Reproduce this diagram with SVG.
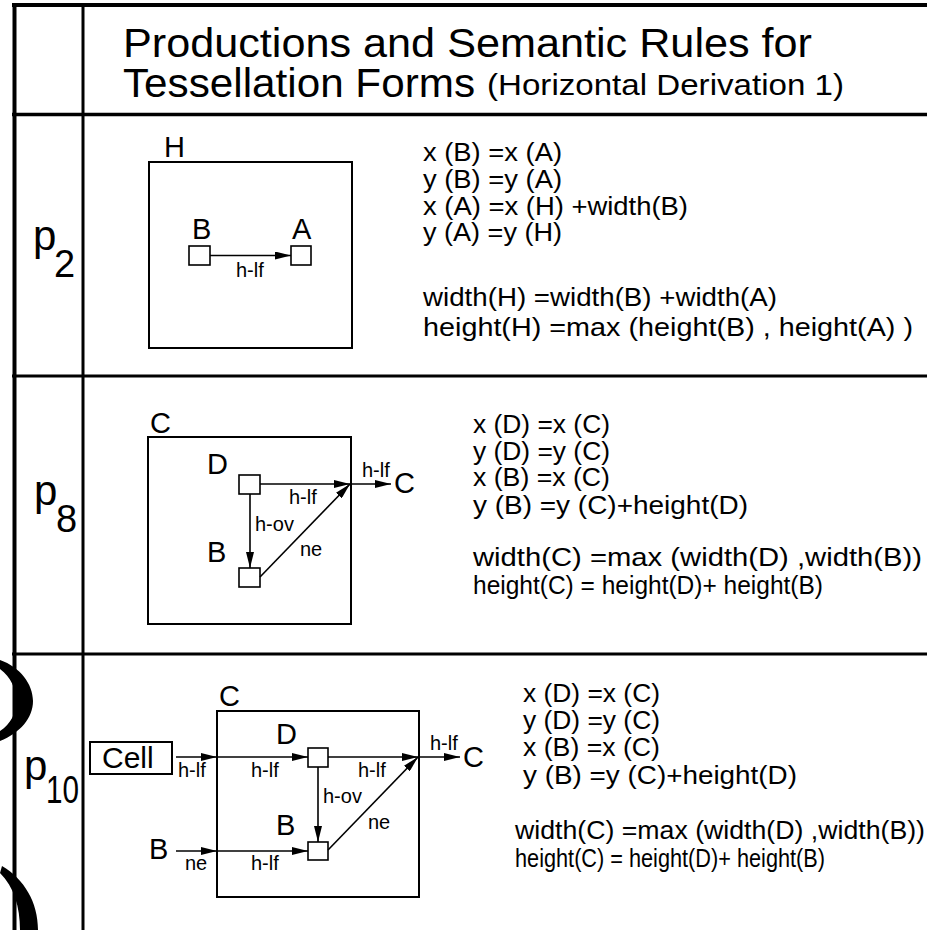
<svg xmlns="http://www.w3.org/2000/svg" width="927" height="930" viewBox="0 0 927 930">
  <style>
    .grid { stroke: #000; fill: none; }
    .frame { fill: none; stroke: #000; stroke-width: 2; }
    .box { fill: #fff; stroke: #000; stroke-width: 1.6; }
    .edge { stroke: #000; stroke-width: 1.6; fill: none; marker-end: url(#arrow); }
    .sans { font-family: "Liberation Sans", Arial, sans-serif; fill: #000; }
    .title { font-size: 40px; }
    .sub { font-size: 30px; }
    .plabel { font-size: 42px; }
    .pidx { font-size: 38px; }
    .node { font-size: 29px; }
    .elabel { font-size: 20px; }
    .eq { font-family: "Liberation Sans", Arial, sans-serif; font-size: 25px; fill: #000; }
  </style>
  <defs>
    <marker id="arrow" markerUnits="userSpaceOnUse" markerWidth="16" markerHeight="8" refX="16" refY="4" orient="auto">
      <path d="M0,0 L16,4 L0,8 Z" fill="#000"/>
    </marker>
  </defs>

  <rect width="927" height="930" fill="#fff"/>

  <!-- table rules -->
  <g id="table" class="grid">
    <line x1="12" y1="5" x2="927" y2="5" stroke-width="4"/>
    <line x1="14.5" y1="3" x2="14.5" y2="930" stroke-width="4"/>
    <line x1="83" y1="3" x2="83" y2="930" stroke-width="3"/>
    <line x1="12" y1="114.5" x2="927" y2="114.5" stroke-width="3.5"/>
    <line x1="12" y1="376" x2="927" y2="376" stroke-width="3"/>
    <line x1="12" y1="654" x2="927" y2="654" stroke-width="3"/>
  </g>

  <!-- bracket marks at the left edge -->
  <g id="brackets" fill="#000">
    <path d="M0,660 C20,667 33,684 33,701 C33,718 20,733 0,741 L0,731 C11,724 16,713 16,701 C16,689 11,677 0,669 Z"/>
    <path d="M2,866 C24,879 38,902 38,930 L20,930 C20,907 14,887 0,873 Z"/>
  </g>

  <!-- heading -->
  <g id="header" class="sans">
    <text class="title" x="123" y="57" textLength="689" lengthAdjust="spacingAndGlyphs">Productions and Semantic Rules for</text>
    <text class="title" x="123" y="97" textLength="352" lengthAdjust="spacingAndGlyphs">Tessellation Forms</text>
    <text class="sub" x="487" y="95" textLength="357" lengthAdjust="spacingAndGlyphs">(Horizontal Derivation 1)</text>
  </g>

  <!-- production labels -->
  <g id="label-p2" class="sans">
    <text class="plabel" x="33" y="250">p</text>
    <text class="pidx" x="54" y="277">2</text>
  </g>
  <g id="label-p8" class="sans">
    <text class="plabel" x="34" y="505">p</text>
    <text class="pidx" x="56" y="532">8</text>
  </g>
  <g id="label-p10" class="sans">
    <text class="plabel" x="24" y="780">p</text>
    <text class="pidx" x="46" y="803" textLength="33" lengthAdjust="spacingAndGlyphs">10</text>
  </g>

  <!-- p2 nodes -->
  <g id="p2-H">
    <rect class="frame" x="149" y="162" width="203" height="186"/>
    <text class="sans node" x="164" y="157">H</text>
  </g>
  <g id="p2-B">
    <rect class="box" x="189" y="246" width="21" height="19"/>
    <text class="sans node" x="192" y="239">B</text>
  </g>
  <g id="p2-A">
    <rect class="box" x="291" y="246" width="20" height="19"/>
    <text class="sans node" x="292" y="239">A</text>
  </g>

  <!-- p8 nodes -->
  <g id="p8-C">
    <rect class="frame" x="148" y="437" width="203" height="187"/>
    <text class="sans node" x="150" y="433">C</text>
  </g>
  <g id="p8-D">
    <rect class="box" x="239" y="475" width="21" height="19"/>
    <text class="sans node" x="207" y="474">D</text>
  </g>
  <g id="p8-B">
    <rect class="box" x="239" y="568" width="21" height="19"/>
    <text class="sans node" x="207" y="562">B</text>
  </g>
  <g id="p8-C-out">
    <text class="sans node" x="394" y="493">C</text>
  </g>

  <!-- p10 nodes -->
  <g id="p10-C">
    <rect class="frame" x="217" y="711" width="202" height="186"/>
    <text class="sans node" x="219" y="706">C</text>
  </g>
  <g id="p10-Cell">
    <rect class="frame" x="90" y="742" width="82" height="32"/>
    <text class="sans" x="102" y="768" font-size="30">Cell</text>
  </g>
  <g id="p10-D">
    <rect class="box" x="308" y="748" width="20" height="19"/>
    <text class="sans node" x="276" y="744">D</text>
  </g>
  <g id="p10-B">
    <rect class="box" x="308" y="842" width="20" height="18"/>
    <text class="sans node" x="276" y="835">B</text>
  </g>
  <g id="p10-B-in">
    <text class="sans node" x="149" y="859">B</text>
  </g>
  <g id="p10-C-out">
    <text class="sans node" x="463" y="767">C</text>
  </g>

  <!-- connectors -->
  <g id="connectors">
    <line class="edge" x1="210" y1="255.5" x2="291" y2="255.5"/>

    <line class="edge" x1="260" y1="484" x2="350" y2="484"/>
    <line class="edge" x1="350" y1="484" x2="391" y2="484"/>
    <line class="edge" x1="250" y1="494" x2="250" y2="568"/>
    <line class="edge" x1="260" y1="577" x2="350" y2="484"/>

    <line class="edge" x1="176" y1="757" x2="217" y2="757"/>
    <line class="edge" x1="217" y1="757" x2="308" y2="757"/>
    <line class="edge" x1="328" y1="757" x2="418" y2="757"/>
    <line class="edge" x1="418" y1="757" x2="460" y2="757"/>
    <line class="edge" x1="318" y1="767" x2="318" y2="842"/>
    <line class="edge" x1="176" y1="851" x2="217" y2="851"/>
    <line class="edge" x1="217" y1="851" x2="308" y2="851"/>
    <line class="edge" x1="328" y1="850" x2="418" y2="757"/>
  </g>

  <!-- connector labels -->
  <g id="edge-labels" class="sans elabel">
    <text x="236" y="277">h-lf</text>

    <text x="362" y="477">h-lf</text>
    <text x="289" y="504">h-lf</text>
    <text x="255" y="531">h-ov</text>
    <text x="300" y="556">ne</text>

    <text x="178" y="777">h-lf</text>
    <text x="251" y="777">h-lf</text>
    <text x="358" y="777">h-lf</text>
    <text x="430" y="750">h-lf</text>
    <text x="323" y="803">h-ov</text>
    <text x="368" y="829">ne</text>
    <text x="185" y="870">ne</text>
    <text x="251" y="870">h-lf</text>
  </g>

  <!-- semantic rules -->
  <g id="rules-p2" class="eq">
    <text x="423" y="161" textLength="139" lengthAdjust="spacingAndGlyphs">x (B) =x (A)</text>
    <text x="423" y="188" textLength="139" lengthAdjust="spacingAndGlyphs">y (B) =y (A)</text>
    <text x="423" y="215" textLength="265" lengthAdjust="spacingAndGlyphs">x (A) =x (H) +width(B)</text>
    <text x="423" y="241" textLength="139" lengthAdjust="spacingAndGlyphs">y (A) =y (H)</text>
    <text x="423" y="306" textLength="354" lengthAdjust="spacingAndGlyphs">width(H) =width(B) +width(A)</text>
    <text x="423" y="336" textLength="490" lengthAdjust="spacingAndGlyphs">height(H) =max (height(B) , height(A) )</text>
  </g>
  <g id="rules-p8" class="eq">
    <text x="473" y="433" textLength="137" lengthAdjust="spacingAndGlyphs">x (D) =x (C)</text>
    <text x="473" y="460" textLength="137" lengthAdjust="spacingAndGlyphs">y (D) =y (C)</text>
    <text x="473" y="486" textLength="137" lengthAdjust="spacingAndGlyphs">x (B) =x (C)</text>
    <text x="473" y="514" textLength="275" lengthAdjust="spacingAndGlyphs">y (B) =y (C)+height(D)</text>
    <text x="473" y="566" textLength="449" lengthAdjust="spacingAndGlyphs">width(C) =max (width(D) ,width(B))</text>
    <text x="473" y="594" textLength="350" lengthAdjust="spacingAndGlyphs">height(C) = height(D)+ height(B)</text>
  </g>
  <g id="rules-p10" class="eq">
    <text x="523" y="702" textLength="137" lengthAdjust="spacingAndGlyphs">x (D) =x (C)</text>
    <text x="523" y="729" textLength="137" lengthAdjust="spacingAndGlyphs">y (D) =y (C)</text>
    <text x="523" y="756" textLength="137" lengthAdjust="spacingAndGlyphs">x (B) =x (C)</text>
    <text x="523" y="784" textLength="274" lengthAdjust="spacingAndGlyphs">y (B) =y (C)+height(D)</text>
    <text x="515" y="839" textLength="410" lengthAdjust="spacingAndGlyphs">width(C) =max (width(D) ,width(B))</text>
    <text x="515" y="867" textLength="310" lengthAdjust="spacingAndGlyphs">height(C) = height(D)+ height(B)</text>
  </g>
</svg>
